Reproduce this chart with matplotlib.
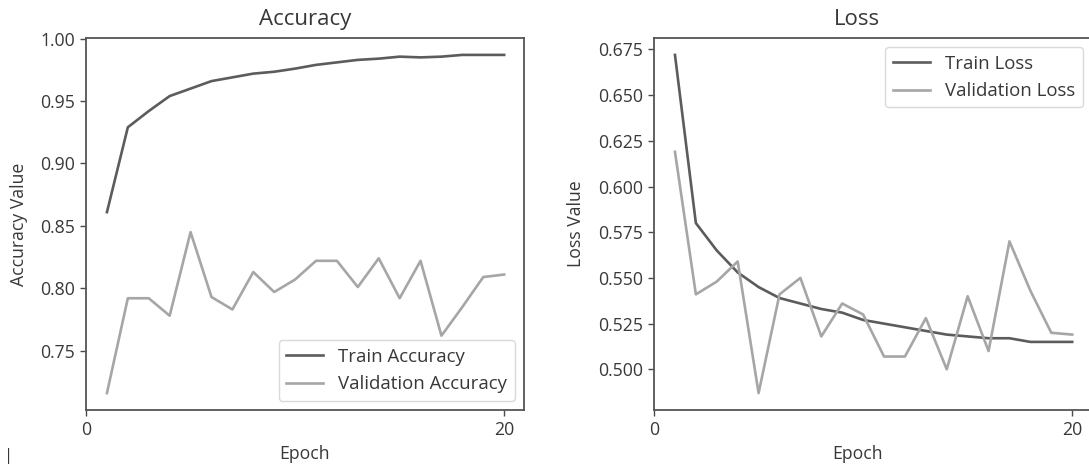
import matplotlib
matplotlib.use("Agg")
import matplotlib.pyplot as plt

epochs = list(range(1, 21))
train_acc = [0.861, 0.929, 0.942, 0.954, 0.960, 0.966, 0.969, 0.972, 0.9735, 0.976,
             0.979, 0.981, 0.983, 0.984, 0.9856, 0.985, 0.9856, 0.987, 0.987, 0.987]
val_acc = [0.716, 0.792, 0.792, 0.778, 0.845, 0.793, 0.783, 0.813, 0.797, 0.807,
           0.822, 0.822, 0.801, 0.824, 0.792, 0.822, 0.762, 0.785, 0.809, 0.811]
train_loss = [0.672, 0.580, 0.565, 0.553, 0.545, 0.539, 0.536, 0.533, 0.531, 0.527,
              0.525, 0.523, 0.521, 0.519, 0.518, 0.517, 0.517, 0.515, 0.515, 0.515]
val_loss = [0.619, 0.541, 0.548, 0.559, 0.487, 0.541, 0.550, 0.518, 0.536, 0.530,
            0.507, 0.507, 0.528, 0.500, 0.540, 0.510, 0.570, 0.543, 0.520, 0.519]
xticks = [0, 20]

plt.rcParams['font.family'] = ['Open Sans', 'DejaVu Sans']
plt.rcParams['font.size'] = 12.7
text_c = '#383838'
plt.rcParams['text.color'] = text_c
plt.rcParams['axes.labelcolor'] = text_c
plt.rcParams['xtick.color'] = '#4a4a4a'
plt.rcParams['ytick.color'] = '#4a4a4a'
plt.rcParams['xtick.labelcolor'] = text_c
plt.rcParams['ytick.labelcolor'] = text_c

train_c = '#5c5c5c'
val_c = '#a6a6a6'
spine_c = '#555555'

fig = plt.figure(figsize=(10.89, 4.69), dpi=100)
ax1 = fig.add_axes([0.0790, 0.1258, 0.4022, 0.7932])
ax2 = fig.add_axes([0.6006, 0.1258, 0.4022, 0.7932])

def style(ax):
    for s in ax.spines.values():
        s.set_color(spine_c)
        s.set_linewidth(1.3)
    ax.tick_params(labelsize=12.7, width=1.0, length=4.5)

ax1.plot(epochs, train_acc, color=train_c, lw=1.9, label='Train Accuracy')
ax1.plot(epochs, val_acc, color=val_c, lw=1.9, label='Validation Accuracy')
ax1.set_xticks(xticks)
ax1.set_title('Accuracy', fontsize=16, pad=9, color=text_c)
ax1.set_xlabel('Epoch', fontsize=12.7, labelpad=4)
ax1.set_ylabel('Accuracy Value', fontsize=12.7, labelpad=9)
leg1 = ax1.legend(loc='lower right', fontsize=13.4, frameon=True)
leg1.get_frame().set_edgecolor('#d0d0d0')
style(ax1)

ax2.plot(epochs, train_loss, color=train_c, lw=1.9, label='Train Loss')
ax2.plot(epochs, val_loss, color=val_c, lw=1.9, label='Validation Loss')
ax2.set_xticks(xticks)
ax2.set_title('Loss', fontsize=16, pad=9, color=text_c, x=0.4635)
ax2.set_xlabel('Epoch', fontsize=12.7, labelpad=4)
ax2.xaxis.set_label_coords(0.4635, -0.095)
ax2.set_ylabel('Loss Value', fontsize=12.7, labelpad=9)
leg2 = ax2.legend(loc='upper right', fontsize=13.4, frameon=True)
leg2.get_frame().set_edgecolor('#d0d0d0')
style(ax2)

fig.text(0.004, 0.02, '|', fontsize=12, color=text_c)

fig.savefig('out.png', dpi=100)
